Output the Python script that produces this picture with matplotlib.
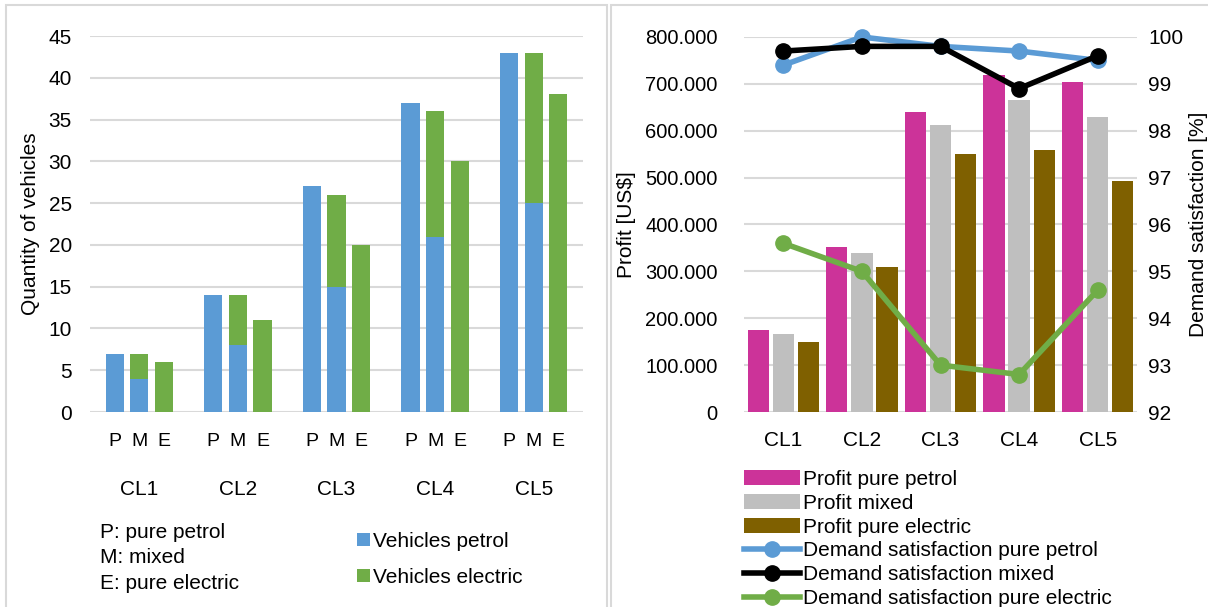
import numpy as np
import matplotlib.pyplot as plt
from matplotlib.patches import Rectangle
from matplotlib.ticker import FuncFormatter

plt.rcParams['font.family'] = ['Liberation Sans', 'DejaVu Sans']

# clusters
clusters = ["CL1", "CL2", "CL3", "CL4", "CL5"]
fleet_labels = ["P", "M", "E"]

# number of vehicles per fleet configuration
petrol_P = [7, 14, 27, 37, 43]
petrol_M = [4, 8, 15, 21, 25]
electric_M = [3, 6, 11, 15, 18]
electric_E = [6, 11, 20, 30, 38]

# profit in US$
profit_P = [175000, 353000, 639000, 720000, 705000]
profit_M = [167000, 339000, 613000, 666000, 630000]
profit_E = [149000, 309000, 550000, 559000, 492000]

# demand satisfaction in %
ds_P = [99.4, 100.0, 99.8, 99.7, 99.5]
ds_M = [99.7, 99.8, 99.8, 98.9, 99.6]
ds_E = [95.6, 95.0, 93.0, 92.8, 94.6]

c_blue = "#5B9BD5"
c_green = "#70AD47"
c_pink = "#CC3399"
c_grey = "#BFBFBF"
c_brown = "#7F6000"
c_grid = "#D9D9D9"

W, H = 1208, 607
fig = plt.figure(figsize=(W / 100, H / 100), dpi=100)

def box(x0, y0, x1, y1):
    return [x0 / W, 1 - y1 / H, (x1 - x0) / W, (y1 - y0) / H]

# panel frames
for x0, x1 in [(6, 607), (611, 1215)]:
    fig.patches.append(Rectangle((x0 / W, -0.05), (x1 - x0) / W, 1 - 5 / H + 0.05,
                                 transform=fig.transFigure, fill=False,
                                 edgecolor=c_grid, linewidth=1.5))

def style(ax):
    for s in ax.spines.values():
        s.set_visible(False)
    ax.set_axisbelow(True)
    ax.yaxis.grid(True, color=c_grid, linewidth=1.5)
    ax.tick_params(length=0, labelsize=15)

# ---- vehicles ----
ax1 = fig.add_axes(box(90, 36, 583, 412))
style(ax1)
x = np.arange(len(clusters))
step = 0.25
w = 0.185
ax1.bar(x - step, petrol_P, w, color=c_blue, label="Vehicles petrol")
ax1.bar(x, petrol_M, w, color=c_blue)
ax1.bar(x, electric_M, w, bottom=petrol_M, color=c_green, label="Vehicles electric")
ax1.bar(x + step, electric_E, w, color=c_green)
ax1.set_xlim(-0.5, 4.5)
ax1.set_ylim(0, 45)
ax1.set_yticks(range(0, 46, 5))
ax1.tick_params(axis='y', pad=13)
pos = np.concatenate([x - step, x, x + step])
ax1.set_xticks(pos)
ax1.set_xticklabels([fleet_labels[0]] * 5 + [fleet_labels[1]] * 5 + [fleet_labels[2]] * 5,
                    fontsize=14)
ax1.tick_params(axis='x', pad=15)
for i, c in enumerate(clusters):
    ax1.text(i, -0.205, c, transform=ax1.get_xaxis_transform(), ha='center', va='center',
             fontsize=15)
ax1.set_ylabel("Quantity of vehicles", fontsize=15, labelpad=6)
for k, t in enumerate(["P: pure petrol", "M: mixed", "E: pure electric"]):
    fig.text(100 / W, 1 - (532 + 25.8 * k) / H, t, fontsize=15, va='center')
ax1.legend(loc='upper left', bbox_to_anchor=(357 / W, 1 - 532 / H), bbox_transform=fig.transFigure,
           frameon=False, fontsize=15, handlelength=0.6, handleheight=0.6,
           handletextpad=0.15, labelspacing=0.8, borderpad=0, borderaxespad=0)

# ---- profit / demand satisfaction ----
ax2 = fig.add_axes(box(744, 37, 1137, 412))
style(ax2)
step2 = 0.32
w2 = 0.27
b1 = ax2.bar(x - step2, profit_P, w2, color=c_pink, label="Profit pure petrol")
b2 = ax2.bar(x, profit_M, w2, color=c_grey, label="Profit mixed")
b3 = ax2.bar(x + step2, profit_E, w2, color=c_brown, label="Profit pure electric")
ax2.set_xlim(-0.5, 4.5)
ax2.set_ylim(0, 800000)
ax2.set_yticks(range(0, 800001, 100000))
ax2.yaxis.set_major_formatter(FuncFormatter(lambda v, p: f"{int(v):,}".replace(",", ".")))
ax2.tick_params(axis='y', pad=19, labelsize=14.5)
ax2.set_xticks(x)
ax2.set_xticklabels(clusters, fontsize=15)
ax2.tick_params(axis='x', pad=14)
ax2.set_ylabel("Profit [US$]", fontsize=15)
ax2.yaxis.set_label_coords((636 - 744) / 393, 0.5)

ax3 = ax2.twinx()
for s in ax3.spines.values():
    s.set_visible(False)
ax3.tick_params(length=0, labelsize=15, pad=8)
ax3.set_ylim(92, 100)
ax3.set_yticks(range(92, 101))
l1, = ax3.plot(x, ds_P, color=c_blue, lw=4, marker='o', ms=11, clip_on=False,
               label="Demand satisfaction pure petrol")
l2, = ax3.plot(x, ds_M, color='black', lw=4, marker='o', ms=11, clip_on=False,
               label="Demand satisfaction mixed")
l3, = ax3.plot(x, ds_E, color=c_green, lw=4, marker='o', ms=11, clip_on=False,
               label="Demand satisfaction pure electric")
ax3.set_ylabel("Demand satisfaction [%]", fontsize=15, labelpad=4)

ax3.legend([b1, b2, b3, l1, l2, l3], [h.get_label() for h in [b1, b2, b3, l1, l2, l3]],
           loc='upper left', bbox_to_anchor=(744 / W, 1 - 470 / H), bbox_transform=fig.transFigure,
           frameon=False, fontsize=15, handlelength=2.7, handleheight=0.7,
           handletextpad=0.15, labelspacing=0.23, borderpad=0, borderaxespad=0)

fig.savefig("out.png", dpi=100)
